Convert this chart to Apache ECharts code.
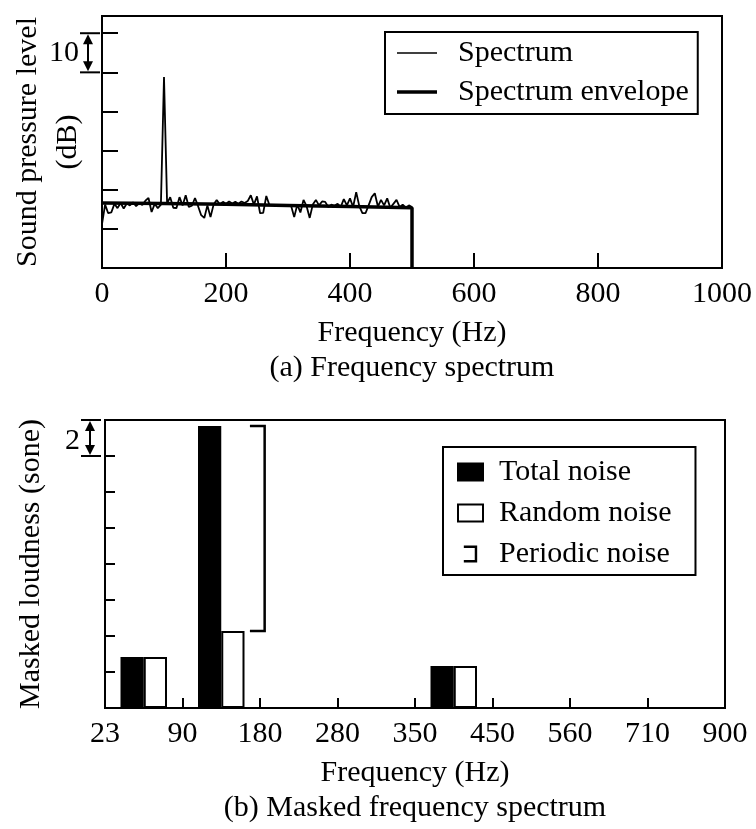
<!DOCTYPE html>
<html><head><meta charset="utf-8">
<script src="https://cdn.jsdelivr.net/npm/echarts@6/dist/echarts.min.js"></script>
<style>html,body{margin:0;padding:0;background:#fff}#c{width:756px;height:829px}</style>
</head><body><div id="c"></div>
<script>
// ---------- (a) Frequency spectrum ----------
const specFreq = [0,5,10,15,20,25,30,35,40,45,50,55,60,65,70,75,80,85,90,95,100,105,110,115,120,125,130,135,140,145,150,155,160,165,170,175,180,185,190,195,200,205,210,215,220,225,230,235,240,245,250,255,260,265,270,275,280,285,290,295,300,305,310,315,320,325,330,335,340,345,350,355,360,365,370,375,380,385,390,395,400,405,410,415,420,425,430,435,440,445,450,455,460,465,470,475,480,485,490,495,500];
const specLevel = [1.2,6.2,4.0,4.2,6.4,5.3,6.6,5.2,6.5,6.0,6.8,5.8,6.6,6.1,7.2,7.9,4.3,6.4,5.3,6.2,38.8,6.5,8.1,5.4,5.3,8.1,6.0,8.6,5.6,5.9,7.9,5.8,3.5,2.8,6.0,3.0,6.2,7.4,6.3,6.9,6.4,7.0,6.5,6.9,6.4,7.0,6.6,7.1,8.6,6.2,8.3,4.0,4.1,8.4,6.1,6.1,6.0,6.1,6.0,6.0,6.0,5.9,3.0,6.2,4.2,7.4,5.8,2.8,6.2,7.4,6.0,7.0,6.9,5.6,6.2,5.9,6.4,5.6,7.6,6.0,7.8,5.6,9.4,5.8,4.0,4.0,6.0,8.1,9.1,5.7,7.4,6.0,7.8,5.4,6.4,7.4,5.6,6.2,5.4,6.0,5.6];
const envFreq = [0,100,200,300,400,500,500];
const envLevel = [6.6,6.5,6.3,6.0,5.7,5.4,-10];
const scaleArrowA = [40, 50];      // dB span marked "10"
const scaleArrowALabel = '10';

// ---------- (b) Masked frequency spectrum ----------
const bandEdges = [23,90,180,280,350,450,560,710,900];
const bandIndex = [0,1,2,3,4,5,6,7];
const totalNoise = [2.83,15.67,null,null,2.33,null,null,null];
const randomNoise = [2.83,4.28,null,null,2.33,null,null,null];
const periodicBand = [1];
const periodicLow = [4.28];
const periodicHigh = [15.67];
const scaleArrowB = [14, 16];      // sone span marked "2"
const scaleArrowBLabel = '2';

const FONT = "'Liberation Serif','Times New Roman',serif";
const FS = 30;
const chart = echarts.init(document.getElementById('c'), null, {renderer:'canvas'});

const tickStyle = {color:'#000', width:2};
const gridA = {left:102, top:16, width:620, height:252};
const gridB = {left:105, top:420, width:620, height:288};

const option = {
  animation:false,
  backgroundColor:'#fff',
  textStyle:{fontFamily:FONT, color:'#000'},
  grid:[
    Object.assign({show:true, borderColor:'#000', borderWidth:2, backgroundColor:'transparent'}, gridA),
    Object.assign({show:true, borderColor:'#000', borderWidth:2, backgroundColor:'transparent'}, gridB)
  ],
  xAxis:[
    {gridIndex:0, type:'value', position:'bottom', min:0, max:1000, interval:200,
     axisLine:{show:false, onZero:false}, splitLine:{show:false},
     axisTick:{show:true, inside:true, length:15, lineStyle:tickStyle},
     axisLabel:{color:'#000', fontSize:FS, fontFamily:FONT, margin:11, formatter:v=>String(v)}},
    {gridIndex:1, type:'category', position:'top', data:bandIndex, show:false},
    {gridIndex:1, type:'value', position:'bottom', min:0, max:8, interval:1,
     axisLine:{show:false, onZero:false}, splitLine:{show:false},
     axisTick:{show:true, inside:true, length:10, lineStyle:tickStyle},
     axisLabel:{color:'#000', fontSize:FS, fontFamily:FONT, margin:11,
       formatter:v=>String(bandEdges[Math.round(v)])}}
  ],
  yAxis:[
    {gridIndex:0, type:'value', min:-10, max:54.4, interval:10,
     axisLine:{show:false, onZero:false}, splitLine:{show:false}, axisLabel:{show:false},
     axisTick:{show:true, inside:true, length:16, lineStyle:tickStyle}},
    {gridIndex:1, type:'value', min:0, max:16, interval:2,
     axisLine:{show:false, onZero:false}, splitLine:{show:false}, axisLabel:{show:false},
     axisTick:{show:true, inside:true, length:10, lineStyle:tickStyle}}
  ],
  legend:[
    {data:[
       {name:'Spectrum', icon:'path://M0,0H40V1.5H0Z'},
       {name:'Spectrum envelope', icon:'path://M0,0H40V3.5H0Z'}],
     orient:'vertical', left:385, top:32,
     padding:[6,9,7,12], itemGap:9, itemWidth:40, itemHeight:14,
     borderColor:'#000', borderWidth:2, backgroundColor:'#fff',
     textStyle:{fontSize:FS, fontFamily:FONT, color:'#000', padding:[0,0,0,16]}},
    {data:[
       {name:'Total noise', icon:'rect'},
       {name:'Random noise', icon:'rect', itemStyle:{color:'#fff', borderColor:'#000', borderWidth:2}},
       {name:'Periodic noise', icon:'path://M0,0H11V14H0V12H9V2H0Z'}],
     orient:'vertical', left:443, top:447,
     padding:[10,24,6,14], itemGap:11, itemWidth:25, itemHeight:17,
     borderColor:'#000', borderWidth:2, backgroundColor:'#fff',
     textStyle:{fontSize:FS, fontFamily:FONT, color:'#000', padding:[0,0,0,11]}}
  ],
  series:[
    {name:'Spectrum', type:'line', xAxisIndex:0, yAxisIndex:0, symbol:'none',
     data:specFreq.map((f,i)=>[f, specLevel[i]]),
     lineStyle:{color:'#000', width:1.8}, itemStyle:{color:'#000'}, z:3},
    {name:'Spectrum envelope', type:'line', xAxisIndex:0, yAxisIndex:0, symbol:'none',
     data:envFreq.map((f,i)=>[f, envLevel[i]]),
     lineStyle:{color:'#000', width:3.5}, itemStyle:{color:'#000'}, z:4},
    {name:'Total noise', type:'bar', xAxisIndex:1, yAxisIndex:1, data:totalNoise,
     barGap:'0%', barCategoryGap:'40%',
     itemStyle:{color:'#000', borderColor:'#000', borderWidth:1.5}},
    {name:'Random noise', type:'bar', xAxisIndex:1, yAxisIndex:1, data:randomNoise,
     barGap:'0%', barCategoryGap:'40%',
     itemStyle:{color:'#fff', borderColor:'#000', borderWidth:2}},
    {name:'Periodic noise', type:'custom', xAxisIndex:1, yAxisIndex:1,
     itemStyle:{color:'#000'},
     encode:{x:0, y:[1,2]},
     data:periodicBand.map((b,i)=>[b, periodicLow[i], periodicHigh[i]]),
     renderItem:function(params, api){
       const hi = api.coord([api.value(0), api.value(2)]);
       const lo = api.coord([api.value(0), api.value(1)]);
       const bw = api.size([1,0])[0];
       const x0 = hi[0] + bw*0.37, x1 = hi[0] + bw*0.56;
       return {type:'polyline',
         shape:{points:[[x0,hi[1]],[x1,hi[1]],[x1,lo[1]],[x0,lo[1]]]},
         style:{stroke:'#000', lineWidth:2.5, fill:null}};
     }}
  ]
};
chart.setOption(option);

function arrowGroup(yTop, yBot, xA, cap0, cap1, label, labelY){
  const h = 10, w = 5;
  return [
    {type:'line', shape:{x1:cap0,y1:yTop,x2:cap1,y2:yTop}, style:{stroke:'#000', lineWidth:2}},
    {type:'line', shape:{x1:cap0,y1:yBot,x2:cap1,y2:yBot}, style:{stroke:'#000', lineWidth:2}},
    {type:'line', shape:{x1:xA,y1:yTop+h,x2:xA,y2:yBot-h}, style:{stroke:'#000', lineWidth:2}},
    {type:'polygon', shape:{points:[[xA,yTop+1],[xA-w,yTop+h+1],[xA+w,yTop+h+1]]}, style:{fill:'#000'}},
    {type:'polygon', shape:{points:[[xA,yBot-1],[xA-w,yBot-h-1],[xA+w,yBot-h-1]]}, style:{fill:'#000'}},
    {type:'text', x:cap0-1, y:labelY, style:{text:label, font:FS+'px '+FONT, fill:'#000', align:'right', verticalAlign:'middle'}}
  ];
}

const aTop = chart.convertToPixel({yAxisIndex:0}, scaleArrowA[1]);
const aBot = chart.convertToPixel({yAxisIndex:0}, scaleArrowA[0]);
const bTop = chart.convertToPixel({yAxisIndex:1}, scaleArrowB[1]);
const bBot = chart.convertToPixel({yAxisIndex:1}, scaleArrowB[0]);

const cxA = gridA.left + gridA.width/2, cyA = gridA.top + gridA.height/2;
const cxB = gridB.left + gridB.width/2, cyB = gridB.top + gridB.height/2;
const txt = (x,y,t,rot)=>({type:'text', x:x, y:y, rotation:rot||0,
  style:{text:t, font:FS+'px '+FONT, fill:'#000', align:'center', verticalAlign:'middle'}});

const elements = []
  .concat(arrowGroup(aTop, aBot, 88, 80, 100, scaleArrowALabel, (aTop+aBot)/2))
  .concat(arrowGroup(bTop, bBot, 90, 81, 101, scaleArrowBLabel, (bTop+bBot)/2 + 3))
  .concat([
    txt(28, cyA, 'Sound pressure level', Math.PI/2),
    txt(68, cyA, '(dB)', Math.PI/2),
    txt(31, cyB, 'Masked loudness (sone)', Math.PI/2),
    txt(cxA, gridA.top+gridA.height+65, 'Frequency (Hz)'),
    txt(cxA, gridA.top+gridA.height+100, '(a) Frequency spectrum'),
    txt(cxB, gridB.top+gridB.height+65, 'Frequency (Hz)'),
    txt(cxB, gridB.top+gridB.height+100, '(b) Masked frequency spectrum')
  ]);
chart.setOption({graphic:{elements:elements}});
</script></body></html>
